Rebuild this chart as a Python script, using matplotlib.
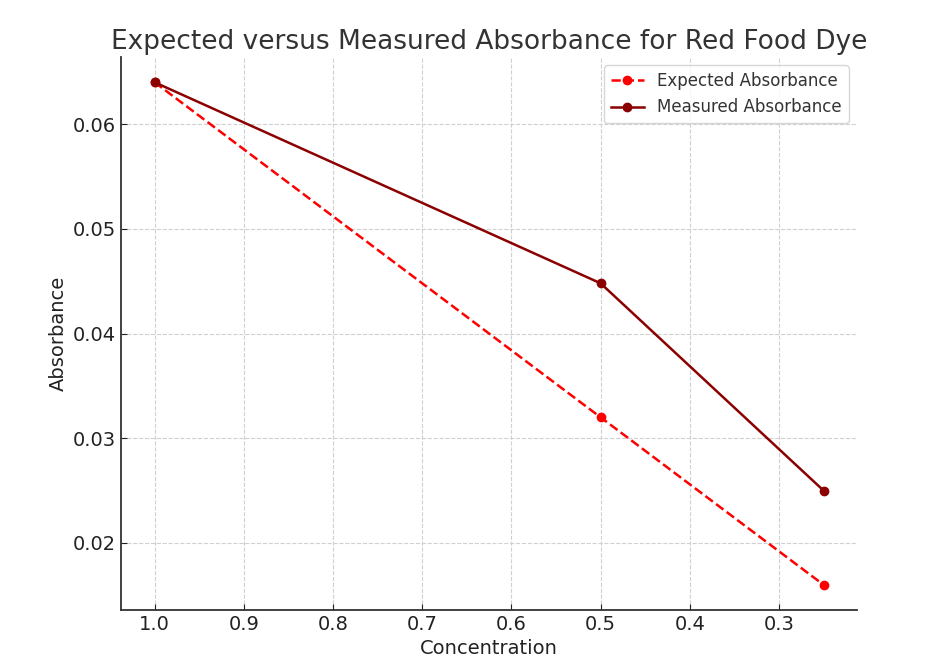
import matplotlib
matplotlib.use("Agg")
import matplotlib.pyplot as plt

# Data
concentration = [1.0, 0.5, 0.25]
expected_abs = [0.064, 0.032, 0.016]
measured_abs = [0.064, 0.0448, 0.025]

plt.rcParams['text.color'] = '#333333'
plt.rcParams['axes.labelcolor'] = '#222222'
plt.rcParams['xtick.color'] = '#222222'
plt.rcParams['ytick.color'] = '#222222'

fig = plt.figure(figsize=(9.46, 6.72), dpi=100)
ax = fig.add_axes([0.128, 0.0923, 0.778, 0.8227])

ax.plot(concentration, expected_abs, 'o--', color='red', label='Expected Absorbance',
        linewidth=1.8, markersize=6)
ax.plot(concentration, measured_abs, 'o-', color='darkred', label='Measured Absorbance',
        linewidth=1.8, markersize=6)

ax.invert_xaxis()

ax.set_title('Expected versus Measured Absorbance for Red Food Dye', fontsize=19, color='#333333')
ax.set_xlabel('Concentration', fontsize=14)
ax.set_ylabel('Absorbance', fontsize=14)
ax.tick_params(direction='in', labelsize=14, length=4)
ax.set_xticks([1.0, 0.9, 0.8, 0.7, 0.6, 0.5, 0.4, 0.3])
ax.set_yticks([0.02, 0.03, 0.04, 0.05, 0.06])

ax.spines['top'].set_visible(False)
ax.spines['right'].set_visible(False)
for s in ['left', 'bottom']:
    ax.spines[s].set_color('#333333')
    ax.spines[s].set_linewidth(1.3)

ax.grid(True, linestyle='--', color='#d0d0d0', linewidth=0.8)
ax.set_axisbelow(True)

leg = ax.legend(fontsize=12, loc='upper right')
leg.get_frame().set_edgecolor('#cccccc')

fig.savefig('out.png', dpi=100)
